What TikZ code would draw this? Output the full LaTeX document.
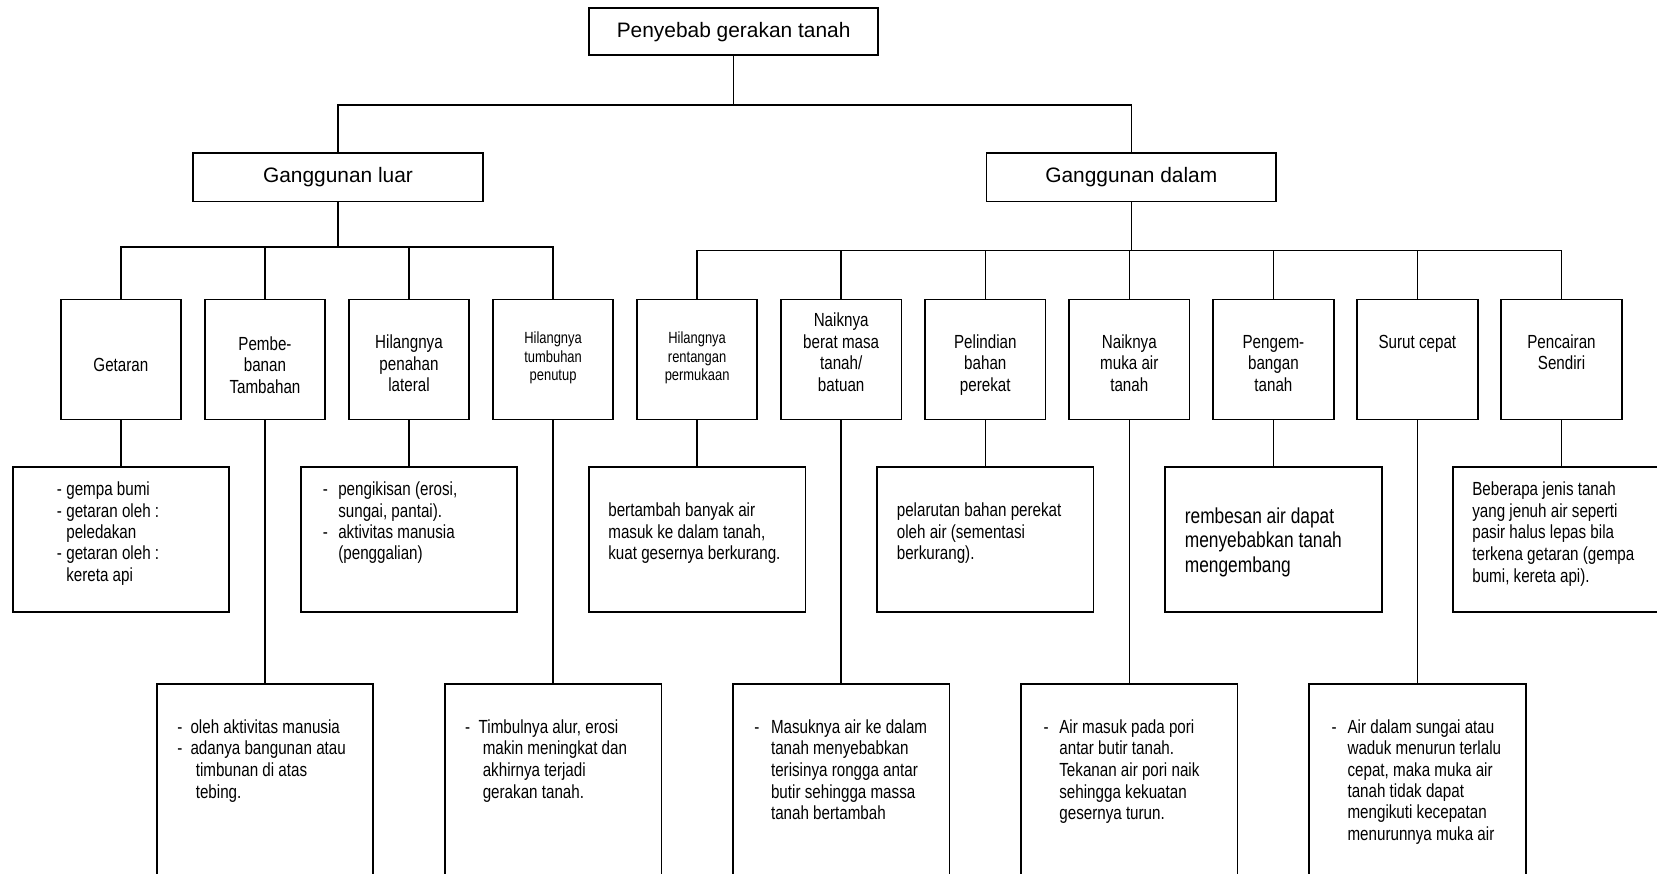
\documentclass[tikz,border=0pt]{standalone}
\usepackage{fontspec}
\setmainfont{Liberation Sans}
\newfontfamily\narrowfont{Liberation Sans}[FakeStretch=0.8]
\newcommand\mydash[1]{\makebox[#1][l]{-}}
\tikzset{
  boxline/.style={draw, line width=1pt, inner sep=0pt},
  topbox/.style={boxline, minimum width=5.774cm, minimum height=0.934cm, font=\fontsize{11.9}{14}\selectfont},
  gangbox/.style={boxline, minimum width=5.79cm, minimum height=0.97cm, font=\fontsize{11.9}{14}\selectfont},
  catbox/.style={boxline, minimum width=2.41cm, minimum height=2.40cm},
  detbox/.style={boxline, minimum width=4.332cm, minimum height=2.894cm},
  longbox/.style={boxline, minimum width=4.332cm, minimum height=4.5cm, anchor=north},
  conn/.style={line width=0.85pt},
  tcat/.style={font=\narrowfont\fontsize{10.8}{12.3}\selectfont, align=center, anchor=north, inner sep=0pt},
  tsmall/.style={font=\narrowfont\fontsize{9.2}{10.5}\selectfont, align=center, anchor=north, inner sep=0pt},
  tdet/.style={font=\narrowfont\fontsize{10.8}{12.19}\selectfont, align=left, anchor=north west, inner sep=0pt},
  tdetl/.style={font=\narrowfont\fontsize{10.8}{12.35}\selectfont, align=left, anchor=north west, inner sep=0pt},
  tdetb/.style={font=\narrowfont\fontsize{10.8}{12.3}\selectfont, align=left, anchor=north west, inner sep=0pt},
  tbig/.style={font=\narrowfont\fontsize{12.33}{13.9}\selectfont, align=left, anchor=north west, inner sep=0pt}
}
\begin{document}
\begin{tikzpicture}[x=0.02cm, y=-0.02cm]
\useasboundingbox (0,0) rectangle (1657,874);
\fill[white] (0,0) rectangle (1657,874);

% top levels
\node[topbox] (top) at (733.6,31.7) {Penyebab gerakan tanah};
\node[gangbox] (luar) at (338,177.25) {Ganggunan luar};
\node[gangbox] (dalam) at (1131.3,177.25) {Ganggunan dalam};

% category boxes
\node[catbox] (b1) at (120.9,359.5) {};
\node[catbox] (b2) at (264.96,359.5) {};
\node[catbox] (b3) at (409.0,359.5) {};
\node[catbox] (b4) at (553.1,359.5) {};
\node[catbox] (b5) at (697.1,359.5) {};
\node[catbox] (b6) at (841.2,359.5) {};
\node[catbox] (b7) at (985.3,359.5) {};
\node[catbox] (b8) at (1129.3,359.5) {};
\node[catbox] (b9) at (1273.4,359.5) {};
\node[catbox] (b10) at (1417.4,359.5) {};
\node[catbox] (b11) at (1561.5,359.5) {};

% category texts
\node[tcat] (t1) at (120.9,355.6) {\strut Getaran};
\node[tcat] (t2) at (264.96,334.6) {\strut Pembe-\\banan\\Tambahan};
\node[tcat] (t3) at (409.0,333.3) {\strut Hilangnya\\penahan\\lateral};
\node[tsmall] (t4) at (553.1,330.5) {\strut Hilangnya\\tumbuhan\\penutup};
\node[tsmall] (t5) at (697.1,330.5) {\strut Hilangnya\\rentangan\\permukaan};
\node[tcat] (t6) at (841.2,311) {\strut Naiknya\\berat masa\\tanah/\\batuan};
\node[tcat] (t7) at (985.3,332.6) {\strut Pelindian\\bahan\\perekat};
\node[tcat] (t8) at (1129.3,332.6) {\strut Naiknya\\muka air\\tanah};
\node[tcat] (t9) at (1273.4,332.6) {\strut Pengem-\\bangan\\tanah};
\node[tcat] (t10) at (1417.4,332.6) {\strut Surut cepat};
\node[tcat] (t11) at (1561.5,332.6) {\strut Pencairan\\Sendiri};

% detail boxes, first row
\node[detbox] (d1) at (120.9,539.35) {};
\node[detbox] (d3) at (409.0,539.35) {};
\node[detbox] (d5) at (697.1,539.35) {};
\node[detbox] (d7) at (985.3,539.35) {};
\node[detbox] (d9) at (1273.4,539.35) {};
\node[detbox] (d11) at (1561.5,539.35) {};

% detail boxes, second row
\node[longbox] (d2) at (264.96,683.3) {};
\node[longbox] (d4) at (553.1,683.3) {};
\node[longbox] (d6) at (841.2,683.3) {};
\node[longbox] (d8) at (1129.3,683.3) {};
\node[longbox] (d10) at (1417.4,683.3) {};

% detail texts
\node[tdet] (x1) at (56.5,480.25) {\strut\mydash{5.4pt}gempa bumi\\\mydash{5.4pt}getaran oleh :\\\hspace*{5.4pt}peledakan\\\mydash{5.4pt}getaran oleh :\\\hspace*{5.4pt}kereta api};
\node[tdet] (x3) at (322.5,480.25) {\strut\mydash{8.8pt}pengikisan (erosi,\\\hspace*{8.8pt}sungai, pantai).\\\mydash{8.8pt}aktivitas manusia\\\hspace*{8.8pt}(penggalian)};
\node[tdet] (x5) at (608,501.25) {\strut bertambah banyak air\\masuk ke dalam tanah,\\kuat gesernya berkurang.};
\node[tdet] (x7) at (896.5,501.25) {\strut pelarutan bahan perekat\\oleh air (sementasi\\berkurang).};
\node[tbig] (x9) at (1184.5,505.9) {\strut rembesan air dapat\\menyebabkan tanah\\mengembang};
\node[tdetb] (x11) at (1472,480.25) {\strut Beberapa jenis tanah\\yang jenuh air seperti\\pasir halus lepas bila\\terkena getaran (gempa\\bumi, kereta api).};

\node[tdetl] (x2) at (177,717.5) {\strut\mydash{7.5pt}oleh aktivitas manusia\\\mydash{7.5pt}adanya bangunan atau\\\hspace*{10.5pt}timbunan di atas\\\hspace*{10.5pt}tebing.};
\node[tdetl] (x4) at (464.7,717.5) {\strut\mydash{7.8pt}Timbulnya alur, erosi\\\hspace*{10.1pt}makin meningkat dan\\\hspace*{10.1pt}akhirnya terjadi\\\hspace*{10.1pt}gerakan tanah.};
\node[tdetl] (x6) at (754,717.5) {\strut\mydash{9.5pt}Masuknya air ke dalam\\\hspace*{9.5pt}tanah menyebabkan\\\hspace*{9.5pt}terisinya rongga antar\\\hspace*{9.5pt}butir sehingga massa\\\hspace*{9.5pt}tanah bertambah};
\node[tdetl] (x8) at (1043.2,717.5) {\strut\mydash{9.0pt}Air masuk pada pori\\\hspace*{9.0pt}antar butir tanah.\\\hspace*{9.0pt}Tekanan air pori naik\\\hspace*{9.0pt}sehingga kekuatan\\\hspace*{9.0pt}gesernya turun.};
\node[tdet] (x10) at (1331.2,717.9) {\strut\mydash{9.1pt}Air dalam sungai atau\\\hspace*{9.1pt}waduk menurun terlalu\\\hspace*{9.1pt}cepat, maka muka air\\\hspace*{9.1pt}tanah tidak dapat\\\hspace*{9.1pt}mengikuti kecepatan\\\hspace*{9.1pt}menurunnya muka air};

% connectors
\coordinate (j0) at (733.6,105);
\coordinate (j1) at (338,247);
\coordinate (j2) at (1131.3,250.5);
\draw[conn] (top.south) -- (j0);
\draw[conn] (j0) -| (luar.north);
\draw[conn] (j0) -| (dalam.north);
\draw[conn] (luar.south) -- (j1);
\foreach \c in {b1,b2,b3,b4} {\draw[conn] (j1) -| (\c.north);}
\draw[conn] (dalam.south) -- (j2);
\foreach \c in {b5,b6,b7,b8,b9,b10,b11} {\draw[conn] (j2) -| (\c.north);}
\foreach \i in {1,...,11} {\draw[conn] (b\i.south) -- (d\i.north);}
\end{tikzpicture}
\end{document}
